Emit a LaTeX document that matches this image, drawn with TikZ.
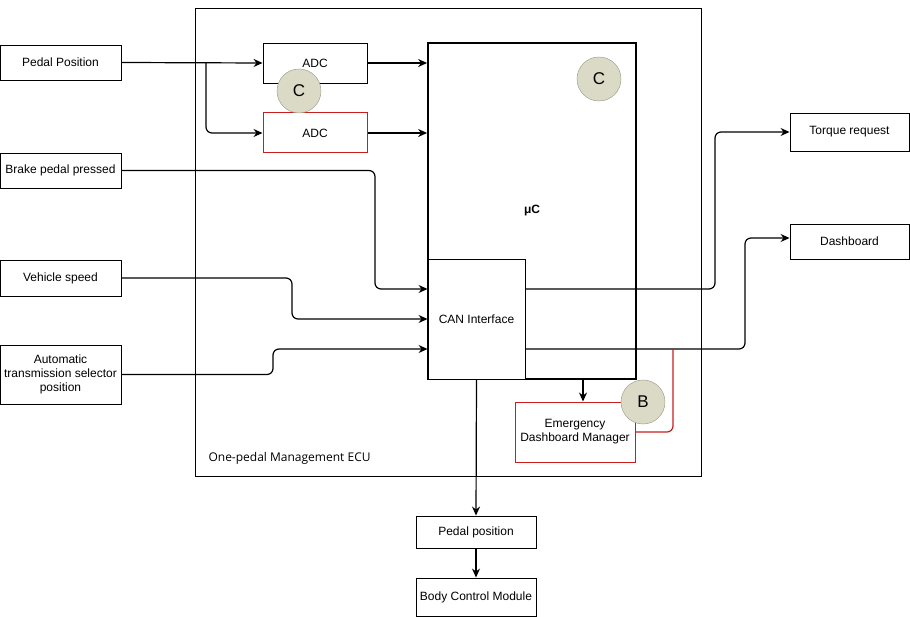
\documentclass[tikz,border=0pt]{standalone}
\usepackage{fontspec}
\setmainfont{Liberation Sans}
\newfontfamily\ecufont{Open Sans}
\usetikzlibrary{arrows.meta}
\definecolor{badgefill}{RGB}{218,218,198}
\definecolor{badgeline}{RGB}{150,150,130}
\definecolor{alertred}{RGB}{200,30,30}
\begin{document}
\begin{tikzpicture}[x=1pt,y=-1pt,
  box/.style={draw,fill=white,line width=0.9pt,align=center,inner sep=1pt,
    font=\fontsize{12}{14}\selectfont},
  redbox/.style={box,draw=alertred,line width=1pt},
  badge/.style={circle,draw=badgeline,fill=badgefill,minimum size=44pt,
    inner sep=0pt,font=\fontsize{17}{20}\selectfont},
  link/.style={line width=1.2pt,rounded corners=6pt,-{Stealth[length=9pt,width=8pt]}}]
  \useasboundingbox (0,0) rectangle (910,617);
  % ECU frame
  \node[draw,line width=0.9pt,minimum width=506pt,minimum height=468pt] (ecu) at (448,242) {};
  \node[anchor=west,font=\ecufont\fontsize{12}{14}\selectfont] (ecuname) at (205,458) {One-pedal Management ECU};
  % inputs
  \node[box,minimum width=121pt,minimum height=35pt] (pedal) at (60.5,62.5) {Pedal Position};
  \node[box,minimum width=121pt,minimum height=35pt] (brake) at (60.5,170.5) {Brake pedal pressed};
  \node[box,minimum width=121pt,minimum height=36pt] (speed) at (60.5,278) {Vehicle speed};
  \node[box,minimum width=121pt,minimum height=59pt] (trans) at (60.5,374.5) {Automatic\\transmission selector\\position};
  % inside the ECU
  \node[box,minimum width=104pt,minimum height=40pt] (adcA) at (315,63) {ADC};
  \node[redbox,minimum width=104pt,minimum height=40pt] (adcB) at (315,133) {ADC};
  \node[box,line width=1.8pt,minimum width=208pt,minimum height=336pt,font=\fontsize{12}{14}\selectfont\bfseries] (uc) at (532,211) {μC};
  \node[box,minimum width=97pt,minimum height=120pt] (can) at (476.5,319) {CAN Interface};
  \node[redbox,minimum width=120pt,minimum height=60pt] (edm) at (575,432) {Emergency\\Dashboard Manager};
  % outputs
  \node[box,minimum width=119pt,minimum height=38pt] (torque) at (849.5,132) {Torque request};
  \node[box,minimum width=119pt,minimum height=35pt] (dash) at (849.5,241.5) {Dashboard};
  \node[box,minimum width=120pt,minimum height=32pt] (pedpos) at (476,532) {Pedal position};
  \node[box,minimum width=120pt,minimum height=38pt] (bcm) at (476,597) {Body Control Module};
  % connectors
  \coordinate (split) at (206,62.5);
  \draw[link] (pedal.east) -- (adcA.west);
  \draw[link] (split) |- (adcB.west);
  \draw[link] (adcA.east) -- (adcA.east -| uc.west);
  \draw[link] (adcB.east) -- (adcB.east -| uc.west);
  \draw[link] (brake.east) -- (375,170.5) -- (375,289) -- ([yshift=30pt]can.west);
  \draw[link] (speed.east) -- (292,278) -- (292,319) -- (can.west);
  \draw[link] (trans.east) -- (273,374.5) -- (273,349) -- ([yshift=-30pt]can.west);
  \draw[link] ([yshift=30pt]can.east) -- (715,289) -- (715,132) -- (torque.west);
  \draw[link] ([yshift=-30pt]can.east) -- (745,349) -- (745,238) -- (dash.west |- 0,238);
  \draw[link] ([xshift=8pt]edm.north |- uc.south) -- ([xshift=8pt]edm.north);
  \draw[link] (can.south) -- (pedpos.north);
  \draw[link] (pedpos.south) -- (bcm.north);
  \draw[alertred,line width=1.2pt,rounded corners=6pt] (edm.east) -- (673,432) -- (673,349);
  % badges
  \node[badge] (badgeA) at (299,91) {C};
  \node[badge] (badgeU) at (599,79) {C};
  \node[badge] (badgeB) at (643,402) {B};
\end{tikzpicture}
\end{document}
